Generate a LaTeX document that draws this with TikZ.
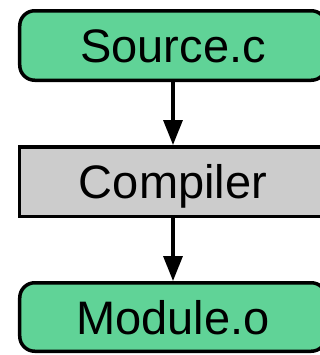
\documentclass[tikz,border=0pt]{standalone}
\usepackage{fontspec}
\setmainfont{Liberation Sans}
\usetikzlibrary{arrows.meta}
\definecolor{boxgreen}{RGB}{96,211,151}
\definecolor{boxgrey}{RGB}{204,204,204}
\tikzset{
  base/.style={draw=black, line width=3.5bp, minimum width=306.5bp, minimum height=69.5bp,
    inner sep=0pt, font=\fontsize{47bp}{50bp}\selectfont, text height=34bp, text depth=0pt},
  filebox/.style={base, fill=boxgreen, rounded corners=15bp},
  toolbox/.style={base, fill=boxgrey},
  flow/.style={line width=3.3bp, -{Triangle[length=25bp,width=19bp]}}
}
\begin{document}
\begin{tikzpicture}[x=1bp,y=-1bp]
\clip (0,0) rectangle (320,355);
\fill[white] (0,0) rectangle (320,355);
\node[filebox] (src) at (173,45.5) {Source.c};
\node[toolbox] (cc) at (173,181.5) {Compiler};
\node[filebox, minimum height=68.5bp] (obj) at (173,317) {Module.o};
\draw[flow] (src) -- (cc);
\draw[flow] (cc) -- (obj);
\end{tikzpicture}
\end{document}
